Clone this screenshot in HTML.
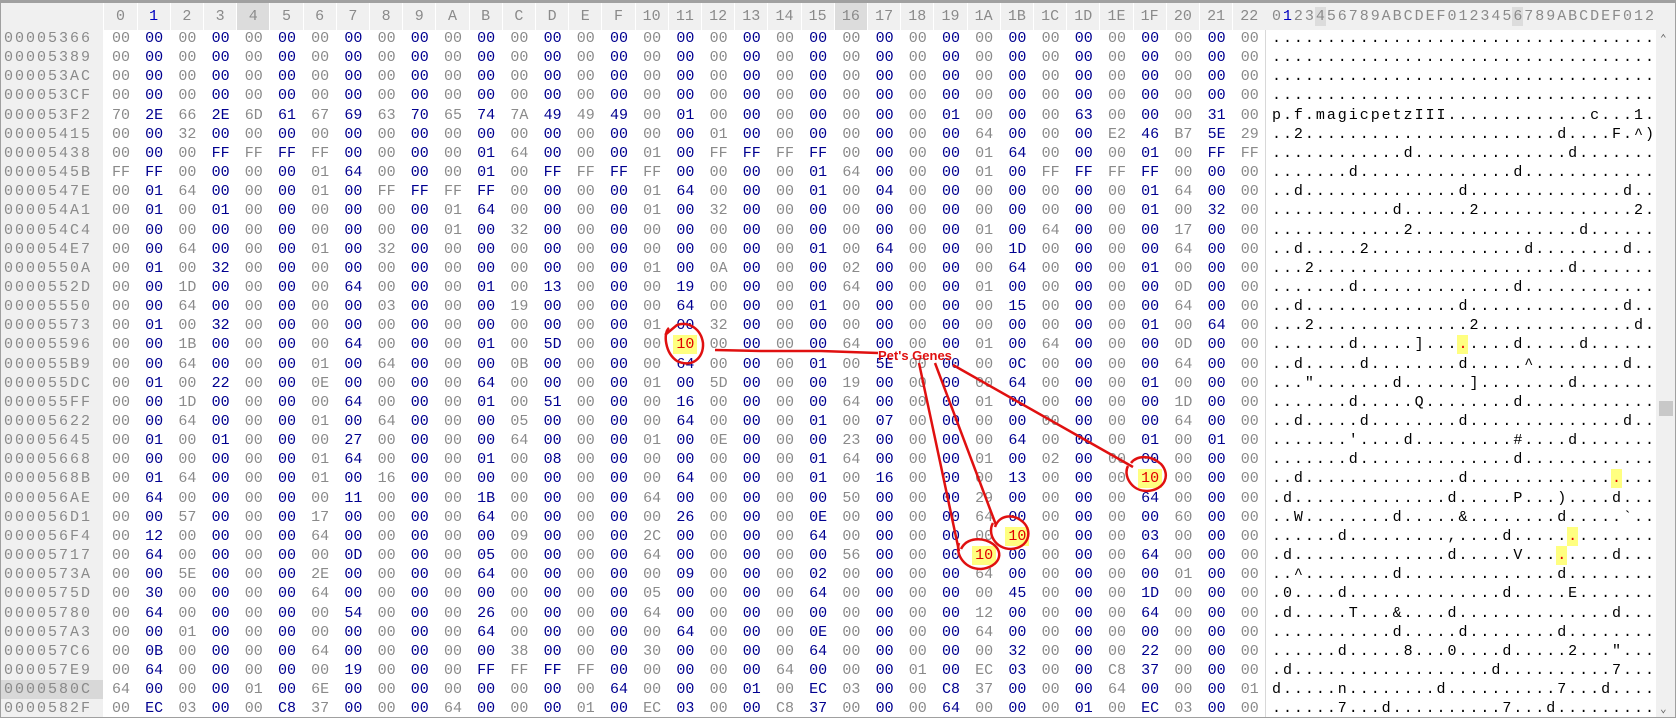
<!DOCTYPE html>
<html><head><meta charset="utf-8">
<style>
body{margin:0;width:1678px;height:720px;overflow:hidden;background:#fff;font-family:"Liberation Mono",monospace;}
#wrap{position:absolute;left:0;top:0;width:1676px;height:718px;border:1px solid #a0a0a0;border-top:3px solid #a0a0a0;box-sizing:border-box;overflow:hidden;background:#fff}
.c{position:absolute;width:30px;text-align:center;font-size:15px;line-height:19px;height:19px}
.a{position:absolute;width:11px;text-align:center;font-size:15px;line-height:19px;height:19px;color:#000}
.h{position:absolute;top:0;height:27px;line-height:27px;font-size:15px;color:#8a8a8a;text-align:center;background:#f0f0f0;border-right:1px solid #fff;box-sizing:border-box}
.addr{position:absolute;left:0;width:102px;font-size:15px;line-height:19px;height:19px;color:#8a8a8a;letter-spacing:2px;padding-left:3px;box-sizing:border-box;background:#f0f0f0}
</style></head><body>
<div id="wrap">
<div id="hdr"></div>
<div id="grid"></div>
<div style="position:absolute;left:1264px;top:27px;width:1px;height:700px;background:#d8d8d8"></div>
<div style="position:absolute;left:1655px;top:27px;width:20px;height:690px;background:#f0f0f0">
 <div style="position:absolute;left:4px;top:2px;font-size:11px;color:#606060">&#8963;</div>
 <div style="position:absolute;left:3px;top:371px;width:14px;height:15px;background:#c8c8c8"></div>
 <div style="position:absolute;left:4px;top:672px;font-size:11px;color:#606060">&#8964;</div>
</div>
<svg style="position:absolute;left:0;top:0" width="1678" height="720">
 <g fill="none" stroke="#e01010" stroke-width="2.5">
  <path d="M668,325 C662,330 664,350 676,358 C690,365 703,356 702,340 C700,326 688,318 676,322 L664,332"/>
  <path d="M1127,463 C1122,472 1130,488 1146,488 C1164,487 1170,472 1160,461 C1150,452 1136,452 1130,460"/>
  <path d="M992,520 C986,530 994,546 1010,546 C1028,545 1032,528 1022,519 C1012,510 998,512 994,524"/>
  <path d="M958,540 C954,552 964,566 980,566 C998,564 1004,550 992,541 C982,534 966,534 960,546"/>
  <path d="M714,347 L760,348 L820,348 L877,350"/>
  <path d="M918,360 L958,548"/>
  <path d="M934,360 L995,522"/>
  <path d="M952,362 L1132,464"/>
 </g>
 <text x="877" y="357" font-family="Liberation Sans, sans-serif" font-size="13" font-weight="bold" fill="#e01010">Pet's Genes</text>
</svg>
</div>
<script>
const addresses=["00005366","00005389","000053AC","000053CF","000053F2","00005415","00005438","0000545B","0000547E","000054A1","000054C4","000054E7","0000550A","0000552D","00005550","00005573","00005596","000055B9","000055DC","000055FF","00005622","00005645","00005668","0000568B","000056AE","000056D1","000056F4","00005717","0000573A","0000575D","00005780","000057A3","000057C6","000057E9","0000580C","0000582F"];
const Z="00 00 00 00 00 00 00 00 00 00 00 00 00 00 00 00 00 00 00 00 00 00 00 00 00 00 00 00 00 00 00 00 00 00 00";
const rows=[Z,Z,Z,Z,
"70 2E 66 2E 6D 61 67 69 63 70 65 74 7A 49 49 49 00 01 00 00 00 00 00 00 00 01 00 00 00 63 00 00 00 31 00",
"00 00 32 00 00 00 00 00 00 00 00 00 00 00 00 00 00 00 01 00 00 00 00 00 00 00 64 00 00 00 E2 46 B7 5E 29",
"00 00 00 FF FF FF FF 00 00 00 00 01 64 00 00 00 01 00 FF FF FF FF 00 00 00 00 01 64 00 00 00 01 00 FF FF",
"FF FF 00 00 00 00 01 64 00 00 00 01 00 FF FF FF FF 00 00 00 00 01 64 00 00 00 01 00 FF FF FF FF 00 00 00",
"00 01 64 00 00 00 01 00 FF FF FF FF 00 00 00 00 01 64 00 00 00 01 00 04 00 00 00 00 00 00 00 01 64 00 00",
"00 01 00 01 00 00 00 00 00 00 01 64 00 00 00 00 01 00 32 00 00 00 00 00 00 00 00 00 00 00 00 01 00 32 00",
"00 00 00 00 00 00 00 00 00 00 01 00 32 00 00 00 00 00 00 00 00 00 00 00 00 00 01 00 64 00 00 00 17 00 00",
"00 00 64 00 00 00 01 00 32 00 00 00 00 00 00 00 00 00 00 00 00 01 00 64 00 00 00 1D 00 00 00 00 64 00 00",
"00 01 00 32 00 00 00 00 00 00 00 00 00 00 00 00 01 00 0A 00 00 00 02 00 00 00 00 64 00 00 00 01 00 00 00",
"00 00 1D 00 00 00 00 64 00 00 00 01 00 13 00 00 00 19 00 00 00 00 64 00 00 00 01 00 00 00 00 00 0D 00 00",
"00 00 64 00 00 00 00 00 03 00 00 00 19 00 00 00 00 64 00 00 00 01 00 00 00 00 00 15 00 00 00 00 64 00 00",
"00 01 00 32 00 00 00 00 00 00 00 00 00 00 00 00 01 00 32 00 00 00 00 00 00 00 00 00 00 00 00 01 00 64 00",
"00 00 1B 00 00 00 00 64 00 00 00 01 00 5D 00 00 00 10 00 00 00 00 64 00 00 00 01 00 64 00 00 00 0D 00 00",
"00 00 64 00 00 00 01 00 64 00 00 00 0B 00 00 00 00 64 00 00 00 01 00 5E 00 00 00 0C 00 00 00 00 64 00 00",
"00 01 00 22 00 00 0E 00 00 00 00 64 00 00 00 00 01 00 5D 00 00 00 19 00 00 00 00 64 00 00 00 01 00 00 00",
"00 00 1D 00 00 00 00 64 00 00 00 01 00 51 00 00 00 16 00 00 00 00 64 00 00 00 01 00 00 00 00 00 1D 00 00",
"00 00 64 00 00 00 01 00 64 00 00 00 05 00 00 00 00 64 00 00 00 01 00 07 00 00 00 00 00 00 00 00 64 00 00",
"00 01 00 01 00 00 00 27 00 00 00 00 64 00 00 00 01 00 0E 00 00 00 23 00 00 00 00 64 00 00 00 01 00 01 00",
"00 00 00 00 00 00 01 64 00 00 00 01 00 08 00 00 00 00 00 00 00 01 64 00 00 00 01 00 02 00 00 00 00 00 00",
"00 01 64 00 00 00 01 00 16 00 00 00 00 00 00 00 00 64 00 00 00 01 00 16 00 00 00 13 00 00 00 10 00 00 00",
"00 64 00 00 00 00 00 11 00 00 00 1B 00 00 00 00 64 00 00 00 00 00 50 00 00 00 29 00 00 00 00 64 00 00 00",
"00 00 57 00 00 00 17 00 00 00 00 64 00 00 00 00 00 26 00 00 00 0E 00 00 00 00 64 00 00 00 00 00 60 00 00",
"00 12 00 00 00 00 64 00 00 00 00 00 09 00 00 00 2C 00 00 00 00 64 00 00 00 00 00 10 00 00 00 03 00 00 00",
"00 64 00 00 00 00 00 0D 00 00 00 05 00 00 00 00 64 00 00 00 00 00 56 00 00 00 10 00 00 00 00 64 00 00 00",
"00 00 5E 00 00 00 2E 00 00 00 00 64 00 00 00 00 00 09 00 00 00 02 00 00 00 00 64 00 00 00 00 00 01 00 00",
"00 30 00 00 00 00 64 00 00 00 00 00 00 00 00 00 05 00 00 00 00 64 00 00 00 00 00 45 00 00 00 1D 00 00 00",
"00 64 00 00 00 00 00 54 00 00 00 26 00 00 00 00 64 00 00 00 00 00 00 00 00 00 12 00 00 00 00 64 00 00 00",
"00 00 01 00 00 00 00 00 00 00 00 64 00 00 00 00 00 64 00 00 00 0E 00 00 00 00 64 00 00 00 00 00 00 00 00",
"00 0B 00 00 00 00 64 00 00 00 00 00 38 00 00 00 30 00 00 00 00 64 00 00 00 00 00 32 00 00 00 22 00 00 00",
"00 64 00 00 00 00 00 19 00 00 00 FF FF FF FF 00 00 00 00 00 64 00 00 00 01 00 EC 03 00 00 C8 37 00 00 00",
"64 00 00 00 01 00 6E 00 00 00 00 00 00 00 00 64 00 00 00 01 00 EC 03 00 00 C8 37 00 00 00 64 00 00 00 01",
"00 EC 03 00 00 C8 37 00 00 00 64 00 00 00 01 00 EC 03 00 00 C8 37 00 00 00 64 00 00 00 01 00 EC 03 00 00"];
const highlights=[[16,17],[23,31],[26,27],[27,26]];
const colLabels=["0","1","2","3","4","5","6","7","8","9","A","B","C","D","E","F","10","11","12","13","14","15","16","17","18","19","1A","1B","1C","1D","1E","1F","20","21","22"];
const asciiLabels="0123456789ABCDEF0123456789ABCDEF012";

const hdr=document.getElementById('hdr'), grid=document.getElementById('grid');
const X0=120,PX=33.2,Y0=26,PY=19.15,AX=1275.5,APX=10.97;
let d=document.createElement('div');d.className='h';d.style.left='0px';d.style.width='103px';


hdr.appendChild(d);
colLabels.forEach((t,i)=>{
  const e=document.createElement('div');e.className='h';
  e.style.left=(X0+PX*i-PX/2)+'px';e.style.width=PX+'px';e.textContent=t;
  if(i===1)e.style.color='#0000c0';
  if(i===4||i===22)e.style.background='#dcdcdc';
  
  
  hdr.appendChild(e);
});
d=document.createElement('div');d.className='h';d.style.left='1264px';d.style.width='412px';


hdr.appendChild(d);
[...asciiLabels].forEach((t,i)=>{
  const e=document.createElement('div');e.className='a';
  e.style.left=(AX+APX*i-5.5)+'px';e.style.top='4px';e.style.color=i===1?'#0000c0':'#8a8a8a';
  if(i===4||i===22)e.style.background='#dcdcdc';
  e.textContent=t;
  
  
  hdr.appendChild(e);
});
d=document.createElement('div');d.style.cssText='position:absolute;left:0;top:27px;width:102px;height:700px;background:#f0f0f0';


grid.appendChild(d);
rows.forEach((r,ri)=>{
  const y=Y0+PY*ri;
  const a=document.createElement('div');a.className='addr';a.style.top=y+'px';a.textContent=addresses[ri];
  if(ri===34)a.style.background='#d8d8d8';
  
  
  grid.appendChild(a);
  r.split(' ').forEach((b,ci)=>{
    const hl=highlights.some(h=>h[0]===ri&&h[1]===ci);
    const e=document.createElement('div');e.className='c';
    e.style.left=(X0+PX*ci-15)+'px';e.style.top=y+'px';e.textContent=b;
    e.style.color=hl?'#e00000':(ci%2?'#000090':'#8a8a8a');
    if(hl){e.style.background='#ffff80';e.style.width='24px';e.style.left=(X0+PX*ci-12)+'px';}
    
    
    grid.appendChild(e);
    const v=parseInt(b,16);
    const c=document.createElement('div');c.className='a';
    c.style.left=(AX+APX*ci-5.5)+'px';c.style.top=y+'px';
    c.textContent=(v>=32&&v<127)?String.fromCharCode(v):'.';
    if(hl){c.style.background='#ffff80';c.style.color='#e00000';}
    
    
    grid.appendChild(c);
  });
});
</script>
</body></html>
